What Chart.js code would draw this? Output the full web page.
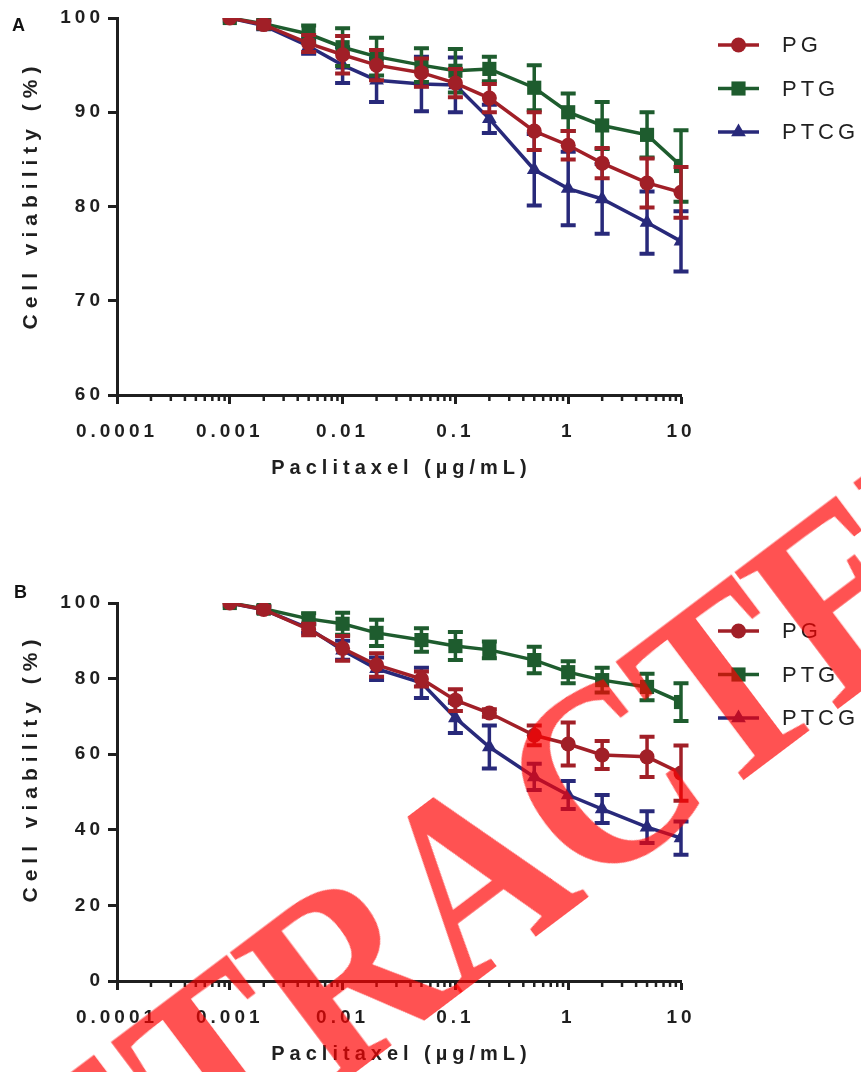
<!DOCTYPE html>
<html>
<head>
<meta charset="utf-8">
<script src="https://cdn.jsdelivr.net/npm/chart.js"></script>
<style>
html, body { margin: 0; padding: 0; background: #fff; }
#page { position: relative; width: 861px; height: 1072px; overflow: hidden; }
canvas { position: absolute; left: 0; }
#chartA { top: 0; }
#chartB { top: 585px; }
#stamp {
    position: absolute; left: 470px; top: 876px;
    transform: translate(-50%, -50%) rotate(-37deg) scaleX(0.87);
    font-family: 'Liberation Serif', serif; font-weight: bold;
    font-size: 262px; letter-spacing: -4px; line-height: 1; white-space: nowrap;
    color: rgba(255, 0, 0, 0.68); pointer-events: none;
}
</style>
</head>
<body>
<div id="page">
<canvas id="chartA" width="861" height="500"></canvas>
<canvas id="chartB" width="861" height="487"></canvas>
<div id="stamp">RETRACTED</div>
</div>
<script>
// doses (µg/mL)
const doses = [0.001, 0.002, 0.005, 0.01, 0.02, 0.05, 0.1, 0.2, 0.5, 1, 2, 5, 10];
const xTickValues = [0.0001, 0.001, 0.01, 0.1, 1, 10];
const xTickLabels = ['0.0001', '0.001', '0.01', '0.1', '1', '10'];
const seriesNames = ['PG', 'PTG', 'PTCG'];

// panel A
const pgA      = [100, 99.3, 97.3, 96.1, 95.0, 94.2, 93.1, 91.5, 88.0, 86.5, 84.6, 82.5, 81.5];
const pgErrA   = [0, 0.4, 0.9, 2.0, 1.6, 1.5, 1.5, 1.5, 2.0, 1.5, 1.6, 2.6, 2.7];
const ptgA     = [100, 99.4, 98.3, 96.9, 95.9, 95.0, 94.4, 94.6, 92.6, 90.0, 88.6, 87.6, 84.3];
const ptgErrA  = [0, 0.4, 0.9, 2.0, 2.0, 1.8, 2.3, 1.3, 2.4, 2.0, 2.5, 2.4, 3.8];
const ptcgA    = [100, 99.2, 97.0, 95.0, 93.4, 93.0, 92.9, 89.3, 83.9, 81.9, 80.8, 78.3, 76.3];
const ptcgErrA = [0, 0.4, 0.8, 1.9, 2.3, 2.9, 2.9, 1.5, 3.8, 3.9, 3.7, 3.3, 3.2];
const yTicksA  = [60, 70, 80, 90, 100];

// panel B
const pgB      = [100, 98.3, 93.0, 88.0, 83.6, 79.9, 74.3, 70.9, 65.0, 62.7, 59.8, 59.3, 55.0];
const pgErrB   = [0, 0.8, 1.5, 3.3, 3.1, 2.0, 2.9, 1.0, 2.6, 5.7, 3.7, 5.3, 7.3];
const ptgB     = [100, 98.5, 95.8, 94.5, 92.1, 90.2, 88.6, 87.6, 84.9, 81.7, 79.6, 77.8, 73.8];
const ptgErrB  = [0, 0.8, 1.5, 2.9, 3.5, 3.1, 3.7, 2.2, 3.5, 2.9, 3.3, 3.5, 5.0];
const ptcgB    = [100, 98.2, 93.3, 87.5, 82.6, 78.9, 69.6, 61.9, 54.0, 49.2, 45.5, 40.7, 37.8];
const ptcgErrB = [0, 0.8, 1.2, 2.5, 3.0, 4.0, 4.0, 5.7, 3.5, 3.7, 3.7, 4.2, 4.4];
const yTicksB  = [0, 20, 40, 60, 80, 100];

const colors = ['#A11F27', '#1E5C2E', '#28297A'];
const styles = ['circle', 'rect', 'triangle'];
const radii = [7.5, 10, 8.5];
const ink = '#1f1f1f';

function makeDatasets(series, errors) {
    return series.map(function(vals, k) {
        return {
            label: seriesNames[k],
            data: doses.map((d, i) => ({x: d, y: vals[i]})),
            errors: errors[k],
            borderColor: colors[k],
            backgroundColor: colors[k],
            borderWidth: 3.5,
            pointStyle: styles[k],
            pointRadius: radii[k],
            pointBorderWidth: 0,
            tension: 0
        };
    });
}

function isMajor(v) {
    return xTickValues.some(t => Math.abs(t - v) / t < 1e-9);
}

// error bars, drawn under each dataset's own line
const errorBars = {
    id: 'errorBars',
    beforeDatasetDraw(chart, args) {
        const ds = chart.data.datasets[args.index];
        const xs = chart.scales.x, ys = chart.scales.y;
        const ctx = chart.ctx;
        ctx.save();
        ctx.strokeStyle = ds.borderColor;
        ds.data.forEach(function(p, i) {
            const e = ds.errors[i];
            if (!e) return;
            const x = xs.getPixelForValue(p.x);
            const yTop = ys.getPixelForValue(p.y + e);
            const yBot = ys.getPixelForValue(p.y - e);
            ctx.lineWidth = 3.5;
            ctx.beginPath();
            ctx.moveTo(x, yTop); ctx.lineTo(x, yBot);
            ctx.stroke();
            ctx.lineWidth = 4;
            ctx.beginPath();
            ctx.moveTo(x - 7.5, yTop); ctx.lineTo(x + 7.5, yTop);
            ctx.moveTo(x - 7.5, yBot); ctx.lineTo(x + 7.5, yBot);
            ctx.stroke();
        });
        ctx.restore();
    }
};

function spacedText(ctx, text, x, y, spacing, align) {
    ctx.letterSpacing = spacing + 'px';
    const w = ctx.measureText(text).width - spacing;
    let sx = x;
    if (align === 'center') sx = x - w / 2;
    ctx.textAlign = 'left';
    ctx.fillText(text, sx, y);
}

function drawMarker(ctx, style, r, x, y) {
    ctx.beginPath();
    if (style === 'circle') {
        ctx.arc(x, y, r, 0, Math.PI * 2);
    } else if (style === 'rect') {
        const s = r * Math.SQRT1_2;
        ctx.rect(x - s, y - s, 2 * s, 2 * s);
    } else {
        ctx.moveTo(x, y - r);
        ctx.lineTo(x + Math.sin(2 * Math.PI / 3) * r, y + r / 2);
        ctx.lineTo(x - Math.sin(2 * Math.PI / 3) * r, y + r / 2);
        ctx.closePath();
    }
    ctx.fill();
}

const decor = {
    id: 'decor',
    beforeDraw(chart) {
        chart.ctx.letterSpacing = '4px';
    },
    afterDraw(chart, args, opts) {
        const ctx = chart.ctx;
        const area = chart.chartArea;
        const xs = chart.scales.x;
        ctx.save();
        // minor ticks on the log axis
        ctx.strokeStyle = ink;
        ctx.lineWidth = 2.5;
        xs.ticks.forEach(function(t) {
            if (isMajor(t.value)) return;
            const x = xs.getPixelForValue(t.value);
            ctx.beginPath();
            ctx.moveTo(x, area.bottom);
            ctx.lineTo(x, area.bottom + 6);
            ctx.stroke();
        });
        ctx.fillStyle = '#111';
        ctx.textBaseline = 'middle';
        // panel letter
        ctx.font = 'bold 18px "Liberation Sans", Arial, sans-serif';
        spacedText(ctx, opts.letter, opts.letterX, opts.letterY, 0, 'left');
        // axis titles
        ctx.fillStyle = ink;
        ctx.font = 'bold 20px "Liberation Sans", Arial, sans-serif';
        spacedText(ctx, 'Paclitaxel (µg/mL)', (area.left + area.right) / 2, area.bottom + 73, 5, 'center');
        ctx.save();
        ctx.translate(31, opts.yTitleCenter);
        ctx.rotate(-Math.PI / 2);
        ctx.font = 'bold 21px "Liberation Sans", Arial, sans-serif';
        spacedText(ctx, 'Cell viability (%)', 0, 0, 6, 'center');
        ctx.restore();
        // legend
        ctx.font = '22px "Liberation Sans", Arial, sans-serif';
        chart.data.datasets.forEach(function(ds, k) {
            const y = opts.legendY + k * 43.5;
            ctx.strokeStyle = ds.borderColor;
            ctx.fillStyle = ds.borderColor;
            ctx.lineWidth = 3.5;
            ctx.beginPath();
            ctx.moveTo(718, y); ctx.lineTo(759, y);
            ctx.stroke();
            drawMarker(ctx, ds.pointStyle, ds.pointRadius, 738.5, y);
            ctx.fillStyle = ink;
            spacedText(ctx, ds.label, 782, y + 1, 4, 'left');
        });
        ctx.restore();
    }
};

function makeChart(id, series, errors, yTicks, xHeight, opts) {
    const ctx = document.getElementById(id).getContext('2d');
    return new Chart(ctx, {
        type: 'line',
        data: { datasets: makeDatasets(series, errors) },
        plugins: [errorBars, decor],
        options: {
            responsive: false,
            animation: false,
            layout: { padding: { top: 18, right: 180, left: 0, bottom: 0 } },
            plugins: {
                legend: { display: false },
                tooltip: { enabled: false },
                decor: opts
            },
            scales: {
                x: {
                    type: 'logarithmic',
                    min: 0.0001,
                    max: 10,
                    afterBuildTicks: function(scale) {
                        const ticks = [];
                        for (let i = 0; i < xTickValues.length - 1; i++) {
                            for (let m = 1; m <= 9; m++) ticks.push({ value: xTickValues[i] * m });
                        }
                        ticks.push({ value: xTickValues[xTickValues.length - 1] });
                        scale.ticks = ticks;
                    },
                    afterFit: function(scale) { scale.height = xHeight; },
                    border: { display: true, color: ink, width: 3 },
                    grid: {
                        drawOnChartArea: false,
                        drawTicks: true,
                        tickLength: 9,
                        tickWidth: 3,
                        tickColor: c => isMajor(c.tick.value) ? ink : 'rgba(0,0,0,0)'
                    },
                    ticks: {
                        autoSkip: false,
                        maxRotation: 0,
                        padding: 16,
                        color: ink,
                        font: { family: '"Liberation Sans", Arial, sans-serif', size: 19, weight: 'bold' },
                        callback: function(v) {
                            const i = xTickValues.findIndex(t => Math.abs(t - v) / t < 1e-9);
                            return i >= 0 ? xTickLabels[i] : '';
                        }
                    }
                },
                y: {
                    type: 'linear',
                    min: yTicks[0],
                    max: yTicks[yTicks.length - 1],
                    afterBuildTicks: function(scale) {
                        scale.ticks = yTicks.map(v => ({ value: v }));
                    },
                    afterFit: function(scale) { scale.width = 117; },
                    border: { display: true, color: ink, width: 3 },
                    grid: {
                        drawOnChartArea: false,
                        drawTicks: true,
                        tickLength: 9,
                        tickWidth: 3,
                        tickColor: ink
                    },
                    ticks: {
                        padding: 4,
                        color: ink,
                        font: { family: '"Liberation Sans", Arial, sans-serif', size: 19, weight: 'bold' }
                    }
                }
            }
        }
    });
}

makeChart('chartA', [pgA, ptgA, ptcgA], [pgErrA, ptgErrA, ptcgErrA], yTicksA, 105,
    { letter: 'A', letterX: 12, letterY: 26, yTitleCenter: 198, legendY: 45 });
makeChart('chartB', [pgB, ptgB, ptcgB], [pgErrB, ptgErrB, ptcgErrB], yTicksB, 91,
    { letter: 'B', letterX: 14, letterY: 8, yTitleCenter: 186, legendY: 46 });
</script>
</body>
</html>
